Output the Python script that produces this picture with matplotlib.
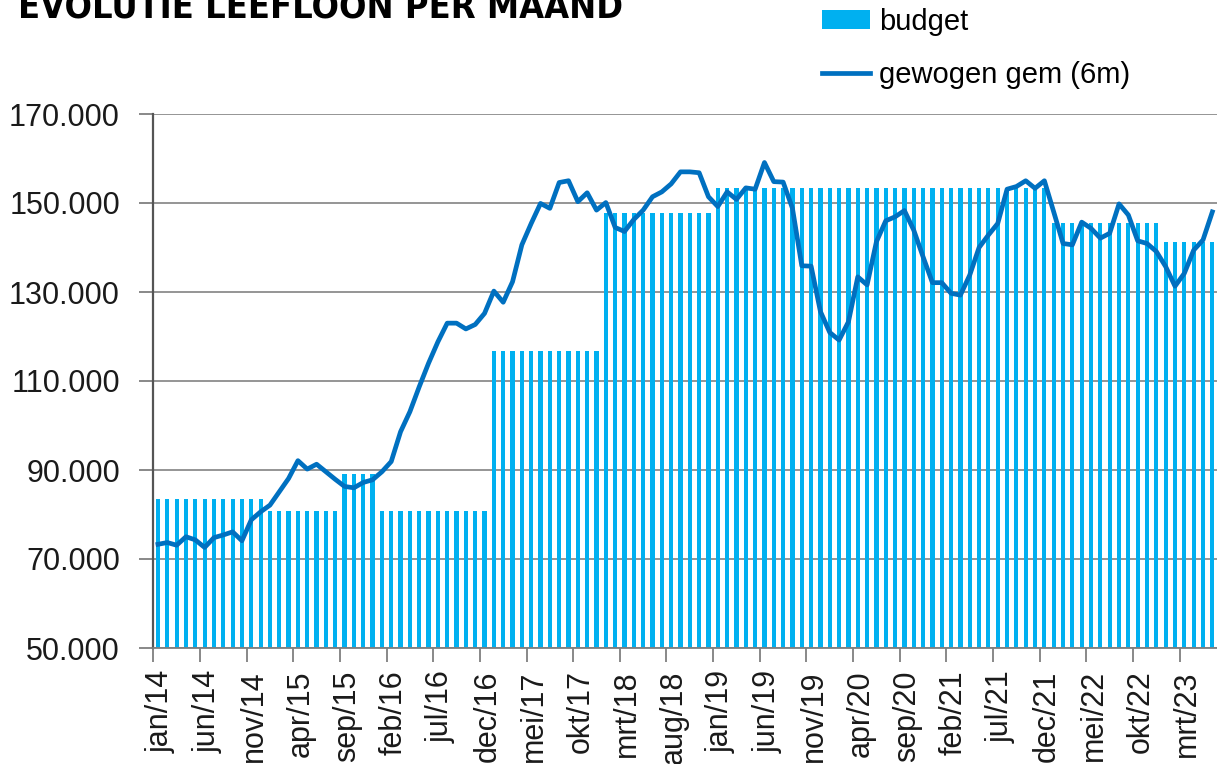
import matplotlib
matplotlib.use("Agg")
import matplotlib.pyplot as plt
from matplotlib.ticker import FuncFormatter, FixedLocator
import numpy as np

# maanden jan/14 .. jun/23
maandnamen = ['jan', 'feb', 'mrt', 'apr', 'mei', 'jun', 'jul', 'aug', 'sep', 'okt', 'nov', 'dec']
jaren = ['14', '15', '16', '17', '18', '19', '20', '21', '22', '23']
maanden = [m + '/' + j for j in jaren for m in maandnamen][:114]

# budget per maand (EUR)
budget = ([83400] * 12 +                 # 2014
          [80800] * 8 + [89100] * 4 +    # 2015
          [80800] * 12 +                 # 2016
          [116800] * 12 +                # 2017
          [147700] * 12 +                # 2018
          [153300] * 36 +                # 2019 - 2021
          [145400] * 12 +                # 2022
          [141300] * 6)                  # 2023

# gewogen gemiddelde (6m), in duizend EUR
gewogen_k = [
    73.3, 73.7, 73.1, 75.0, 74.3, 72.6, 74.8, 75.4, 76.1, 74.1, 78.8, 80.6,
    82.1, 85.1, 88.1, 92.1, 90.2, 91.3, 89.6, 87.9, 86.3, 86.0, 87.2, 87.8,
    89.6, 91.9, 98.6, 103.1, 108.7, 114.0, 118.8, 123.0, 123.0, 121.7, 122.7, 125.2,
    130.2, 127.7, 132.3, 140.6, 145.4, 149.9, 148.8, 154.6, 155.0, 150.3, 152.3, 148.4,
    150.1, 144.5, 143.6, 146.3, 148.4, 151.4, 152.5, 154.3, 157.0, 157.0, 156.8, 151.4,
    149.2, 152.5, 150.8, 153.4, 153.1, 159.1, 154.8, 154.7, 148.8, 135.9, 135.8, 125.6,
    120.9, 119.2, 123.3, 133.4, 131.6, 141.3, 146.0, 146.9, 148.3, 143.9, 137.9, 132.1,
    132.1, 129.7, 129.3, 133.8, 140.0, 142.8, 145.4, 153.1, 153.7, 155.0, 153.3, 155.0,
    148.0, 140.9, 140.6, 145.7, 144.3, 142.1, 143.2, 149.8, 147.3, 141.5, 140.9, 139.1,
    135.7, 131.3, 134.2, 139.4, 141.7, 148.0,
]
gewogen = [v * 1000 for v in gewogen_k]

x = np.arange(len(maanden))

fig = plt.figure(figsize=(12.17, 7.64), dpi=100)
ax = fig.add_axes([153.3 / 1217, 1 - 648 / 764, 1 - 153.3 / 1217, (648 - 114) / 764])

staven = ax.bar(x, budget, width=0.45, color='#00B0F0', label='budget', zorder=2)
lijn, = ax.plot(x, gewogen, color='#0070C0', linewidth=3.4, label='gewogen gem (6m)',
                zorder=3, solid_joinstyle='round')

ax.set_xlim(-0.5, len(maanden) - 0.5)
ax.set_ylim(50000, 170000)
ax.set_yticks(np.arange(50000, 170001, 20000))
ax.yaxis.set_major_formatter(FuncFormatter(lambda v, p: f"{v:,.0f}".replace(",", ".")))
ax.grid(axis='y', color='#8c8c8c', linewidth=1.3, zorder=0)

# labels op elke 5e maand, streepjes op de grens van de categorie
pos = x[::5]
ax.set_xticks(pos + 0.3)
ax.set_xticklabels([maanden[i] for i in pos], rotation=90)
ax.xaxis.set_minor_locator(FixedLocator(pos - 0.5))
ax.tick_params(axis='x', which='major', length=0, pad=16, labelsize=22, labelcolor='#1a1a1a')
ax.tick_params(axis='x', which='minor', length=10, width=1.3, color='#7f7f7f')
ax.tick_params(axis='y', length=10, width=1.3, color='#7f7f7f', pad=14, labelsize=22,
               labelcolor='#1a1a1a')
for t in ax.get_xticklabels() + ax.get_yticklabels():
    t.set_fontfamily(['Liberation Sans', 'DejaVu Sans'])

for s in ['top', 'right']:
    ax.spines[s].set_visible(False)
ax.spines['left'].set_color('#555555')
ax.spines['left'].set_linewidth(1.6)
ax.spines['bottom'].set_color('#7f7f7f')
ax.spines['bottom'].set_linewidth(1.3)

# titel: smal en vet, bovenaan deels afgesneden zoals in het origineel
titel = fig.text(18 / 1217, 1 - 17 / 764, 'EVOLUTIE LEEFLOON PER MAAND', fontsize=31,
                 fontweight='heavy', fontstretch='condensed',
                 family=['DejaVu Sans', 'Liberation Sans'],
                 ha='left', va='baseline', color='black')
fig.canvas.draw()
breedte = titel.get_window_extent().width
if breedte > 0:
    titel.set_fontsize(31 * 602 / breedte)

ax.legend([staven, lijn], ['budget', 'gewogen gem (6m)'], loc='upper left',
          bbox_to_anchor=(822 / 1217, 1 - 8 / 764),
          bbox_transform=fig.transFigure, frameon=False, borderpad=0, borderaxespad=0,
          handlelength=1.65, handleheight=0.65, handletextpad=0.3, labelspacing=0.85,
          prop={'family': ['Liberation Sans', 'DejaVu Sans'], 'size': 21})

fig.savefig('out.png', dpi=100)
